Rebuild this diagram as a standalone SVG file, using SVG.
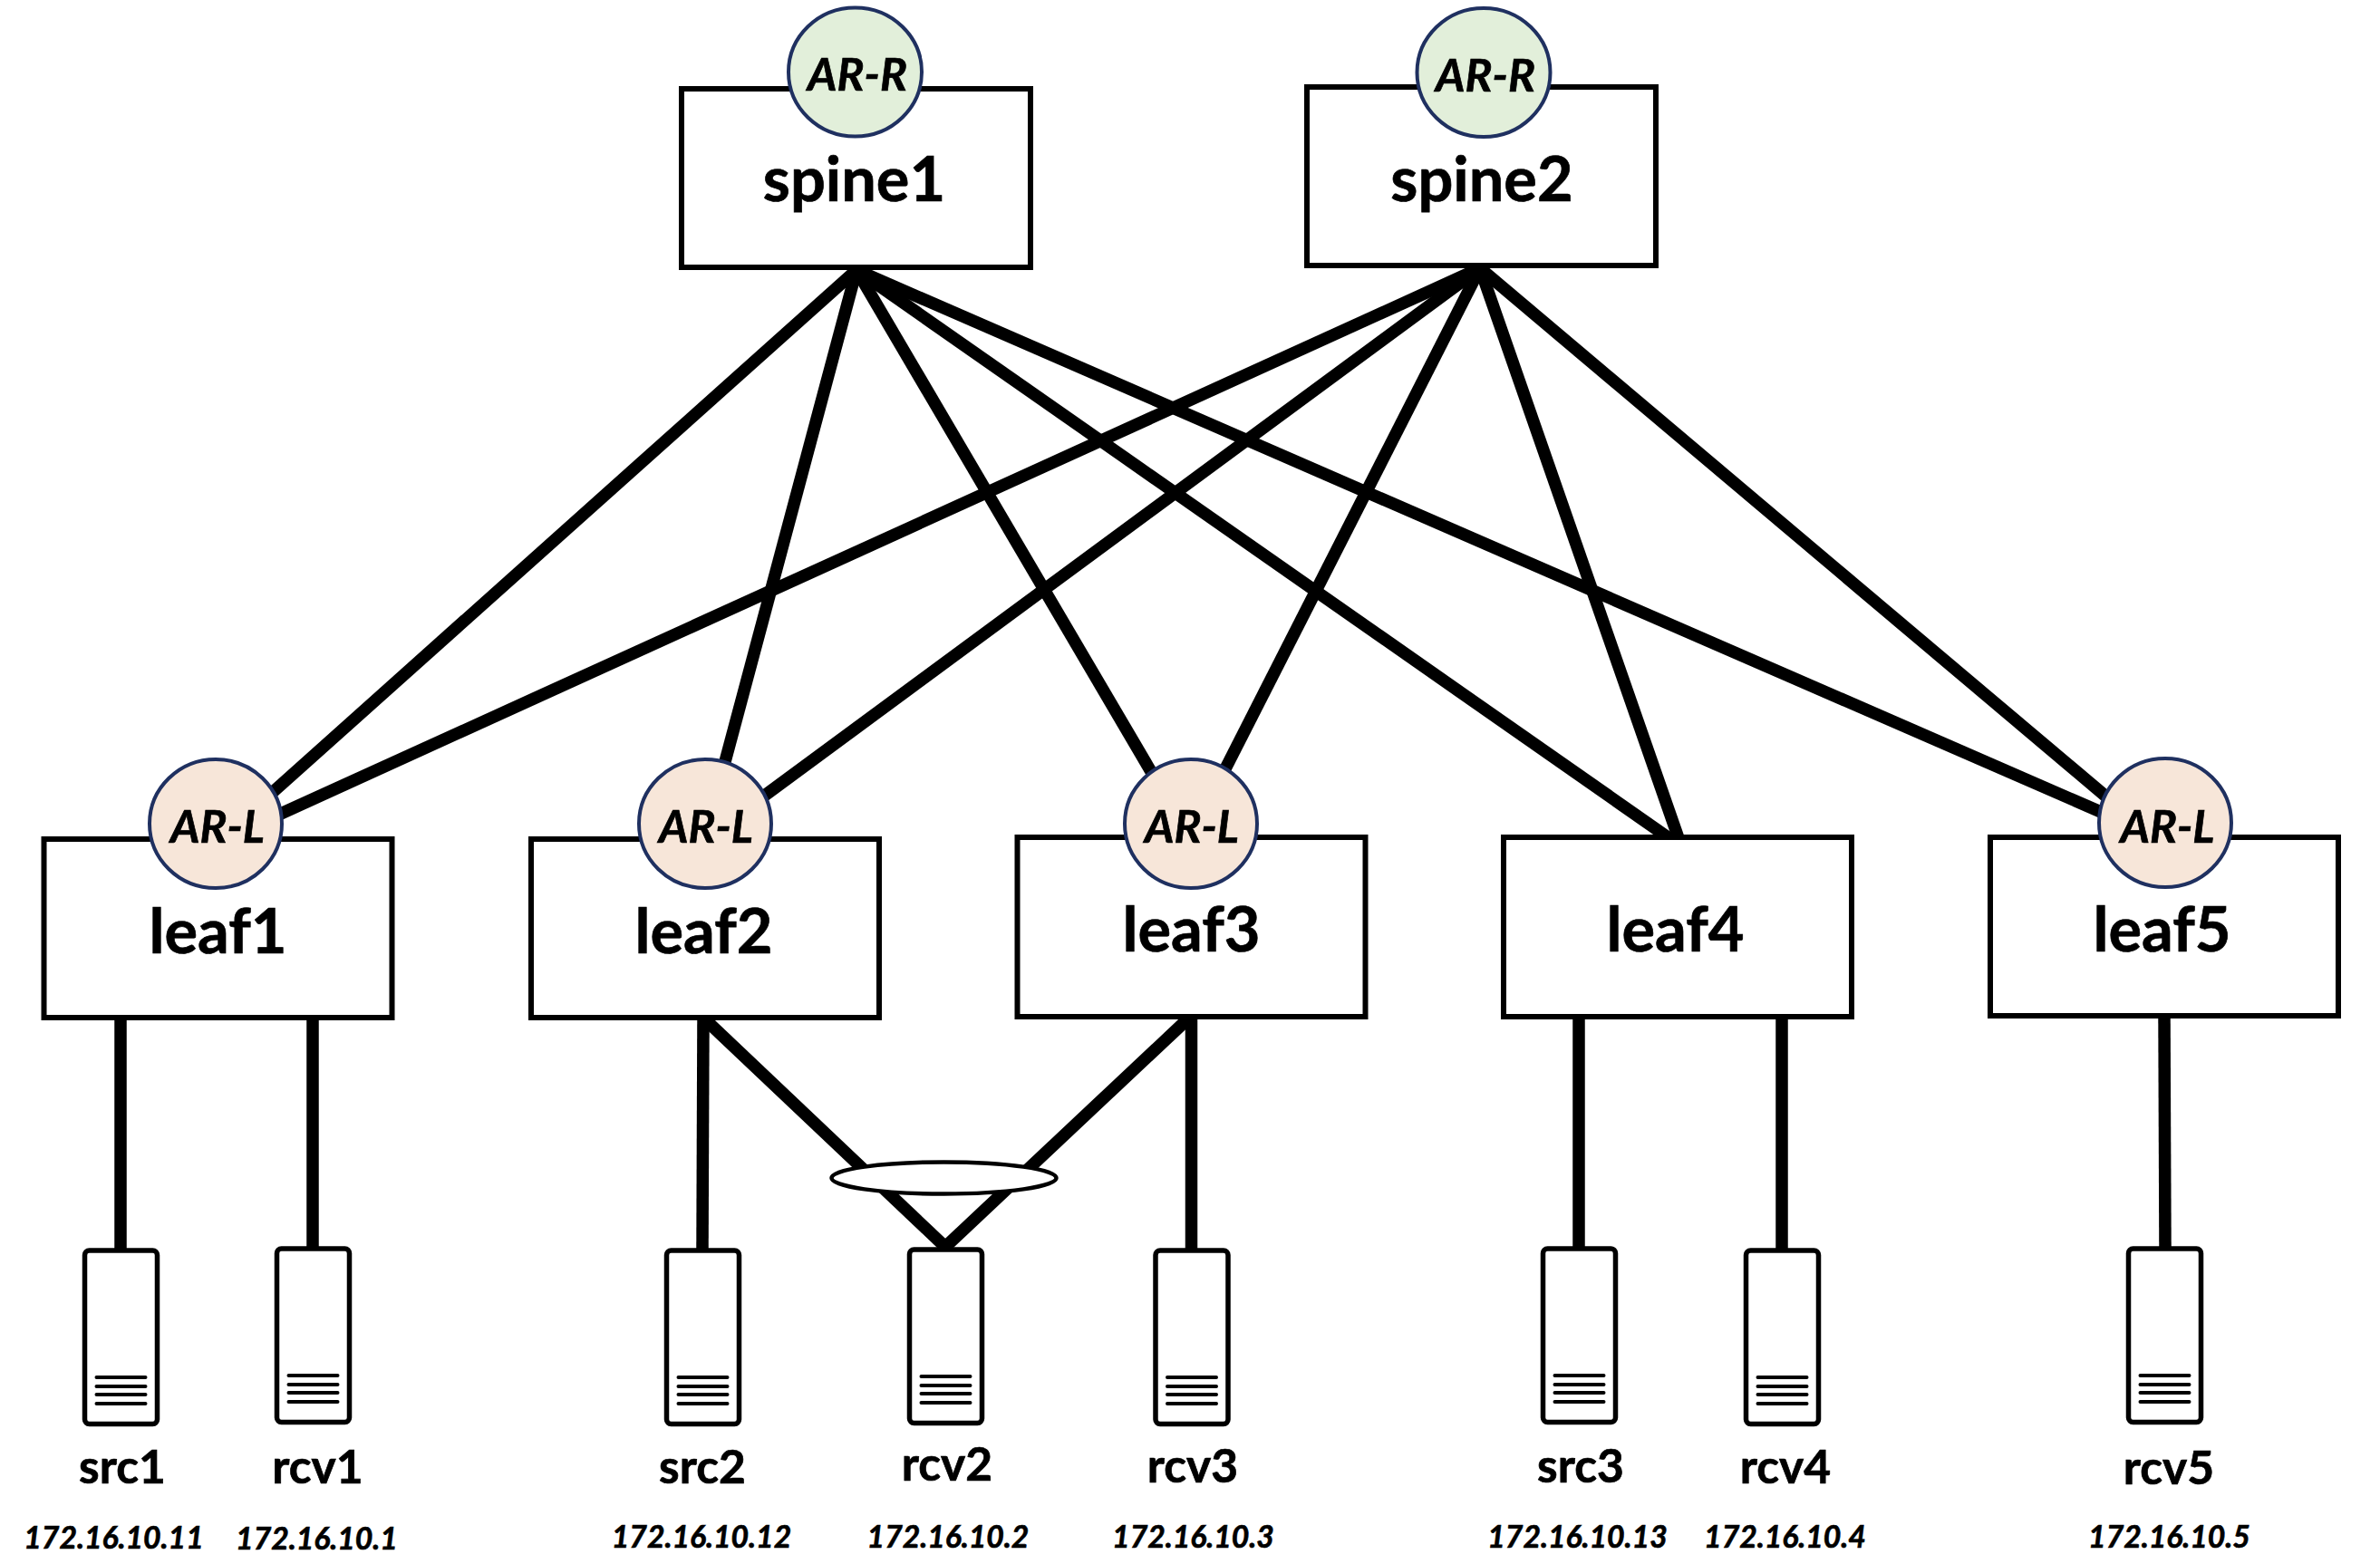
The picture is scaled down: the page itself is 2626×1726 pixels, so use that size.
<svg xmlns="http://www.w3.org/2000/svg" width="2626" height="1726" viewBox="0 0 2626 1726">
<style>
text{font-family:Lato,"Liberation Sans",sans-serif;font-weight:700;fill:#000;stroke:#000;stroke-width:.7;text-anchor:middle}
.sw{font-size:68.5px}
.ar{font-size:50px;font-style:italic}
.h{font-size:51.5px}
.ip{font-size:33.7px;font-style:italic}
.box{fill:#fff;stroke:#000;stroke-width:6}
.r{fill:#e2efda;stroke:#1f3060;stroke-width:4}
.l{fill:#f7e6d9;stroke:#1f3060;stroke-width:4}
.srv{fill:#fff;stroke:#000;stroke-width:5.5}
.g{stroke:#000;stroke-width:4;stroke-linecap:round;fill:none}
#links line{stroke:#000;stroke-width:13.5}
</style>
<defs>
<g id="srvg">
<rect class="srv" x="-40" y="0" width="80" height="191.5" rx="5"/>
<path class="g" d="M-27 140H27M-27 150H27M-27 159H27M-27 169H27"/>
</g>
</defs>
<g id="links">
<line x1="945" y1="298" x2="290" y2="884"/>
<line x1="945" y1="298" x2="790" y2="878"/>
<line x1="945" y1="298" x2="1285" y2="877"/>
<line x1="945" y1="298" x2="1846" y2="928"/>
<line x1="945" y1="298" x2="2350" y2="910"/>
<line x1="1633" y1="296" x2="290" y2="907"/>
<line x1="1633" y1="296" x2="830" y2="888"/>
<line x1="1633" y1="296" x2="1340" y2="872"/>
<line x1="1633" y1="296" x2="1852" y2="925"/>
<line x1="1633" y1="296" x2="2345" y2="897"/>
<line x1="133" y1="1123" x2="133" y2="1378"/>
<line x1="345" y1="1123" x2="345" y2="1376"/>
<line x1="776" y1="1123" x2="775" y2="1378"/>
<line x1="779" y1="1126" x2="1044" y2="1377"/>
<line x1="1309" y1="1126" x2="1042" y2="1377"/>
<line x1="1314.5" y1="1122" x2="1314.5" y2="1378"/>
<line x1="1742" y1="1122" x2="1742" y2="1376"/>
<line x1="1966" y1="1122" x2="1966" y2="1378"/>
<line x1="2388" y1="1121" x2="2389" y2="1376"/>
</g>
<g id="spine1"><rect class="box" x="752" y="98" width="385" height="197"/><ellipse class="r" cx="943.5" cy="79.5" rx="73.5" ry="71"/><text class="ar" x="946" y="100">AR-R</text><text class="sw" x="942.5" y="222">spine1</text></g>
<g id="spine2"><rect class="box" x="1442" y="96" width="385" height="197"/><ellipse class="r" cx="1637" cy="80" rx="73.5" ry="71"/><text class="ar" x="1639" y="101">AR-R</text><text class="sw" x="1635" y="222">spine2</text></g>
<g id="leaf1"><rect class="box" x="48.5" y="926" width="384" height="197"/><ellipse class="l" cx="238" cy="909" rx="73" ry="71"/><text class="ar" x="240" y="930">AR-L</text><text class="sw" x="240.5" y="1052">leaf1</text></g>
<g id="leaf2"><rect class="box" x="586" y="926" width="384" height="197"/><ellipse class="l" cx="778" cy="909" rx="73" ry="71"/><text class="ar" x="779" y="930">AR-L</text><text class="sw" x="776.5" y="1052">leaf2</text></g>
<g id="leaf3"><rect class="box" x="1122.5" y="924" width="384" height="198"/><ellipse class="l" cx="1314" cy="909" rx="73" ry="71"/><text class="ar" x="1315" y="930">AR-L</text><text class="sw" x="1314.5" y="1050">leaf3</text></g>
<g id="leaf4"><rect class="box" x="1659" y="924" width="384" height="198"/><text class="sw" x="1848.5" y="1050">leaf4</text></g>
<g id="leaf5"><rect class="box" x="2196" y="924" width="384" height="197"/><ellipse class="l" cx="2389" cy="908" rx="73" ry="71"/><text class="ar" x="2391.5" y="930">AR-L</text><text class="sw" x="2385.5" y="1050">leaf5</text></g>
<ellipse id="bond" cx="1041.5" cy="1300" rx="124" ry="17.5" fill="#fff" stroke="#000" stroke-width="4.5"/>
<g id="src1"><use href="#srvg" x="133.5" y="1380"/><text class="h" x="135" y="1637">src1</text><text class="ip" x="125.5" y="1709">172.16.10.11</text></g>
<g id="rcv1"><use href="#srvg" x="345.5" y="1378"/><text class="h" x="350.5" y="1637">rcv1</text><text class="ip" x="349.5" y="1710">172.16.10.1</text></g>
<g id="src2"><use href="#srvg" x="775.5" y="1380"/><text class="h" x="775" y="1637">src2</text><text class="ip" x="774" y="1708">172.16.10.12</text></g>
<g id="rcv2"><use href="#srvg" x="1043.5" y="1379"/><text class="h" x="1045" y="1634">rcv2</text><text class="ip" x="1046" y="1708">172.16.10.2</text></g>
<g id="rcv3"><use href="#srvg" x="1315" y="1380"/><text class="h" x="1316" y="1636">rcv3</text><text class="ip" x="1316.5" y="1708">172.16.10.3</text></g>
<g id="src3"><use href="#srvg" x="1742.5" y="1378"/><text class="h" x="1744" y="1636">src3</text><text class="ip" x="1740.5" y="1708">172.16.10.13</text></g>
<g id="rcv4"><use href="#srvg" x="1966.5" y="1380"/><text class="h" x="1970" y="1637">rcv4</text><text class="ip" x="1969.5" y="1708">172.16.10.4</text></g>
<g id="rcv5"><use href="#srvg" x="2388.5" y="1378"/><text class="h" x="2393" y="1638">rcv5</text><text class="ip" x="2393.5" y="1708">172.16.10.5</text></g>
</svg>
